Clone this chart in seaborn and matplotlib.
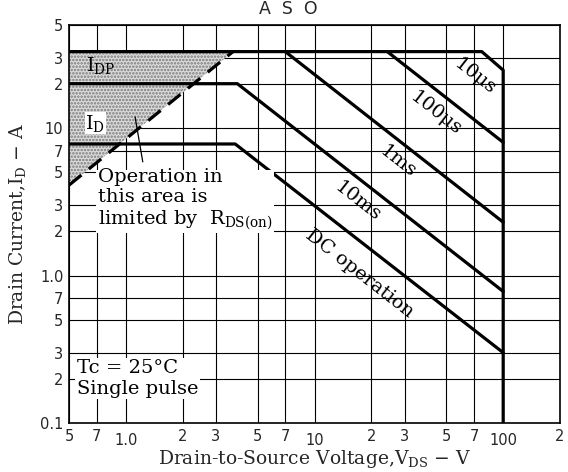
import numpy as np
import pandas as pd
import matplotlib
matplotlib.use('Agg')
import matplotlib.pyplot as plt
import seaborn as sns

# Safe operating area curves (V_DS in V, I_D in A)
idp_level = 33
us10_v = [0.5, 77, 100, 100]
us10_i = [33, 33, 24.7, 0.1]
us100_v = [24.3, 100]
us100_i = [33, 8.0]
ms1_v = [7.0, 100]
ms1_i = [33, 2.3]
ms10_v = [0.5, 3.9, 100]
ms10_i = [20, 20, 0.78]
dc_v = [0.5, 3.8, 100]
dc_i = [7.8, 7.8, 0.3]
rds_v = [0.5, 3.7]
rds_i = [4.1, 33]

x_ticks = [0.5, 0.7, 1, 2, 3, 5, 7, 10, 20, 30, 50, 70, 100, 200]
x_labels = ['5', '7', '1.0', '2', '3', '5', '7', '10', '2', '3', '5', '7', '100', '2']
y_ticks = [0.1, 0.2, 0.3, 0.5, 0.7, 1, 2, 3, 5, 7, 10, 20, 30, 50]
y_labels = ['0.1', '2', '3', '5', '7', '1.0', '2', '3', '5', '7', '10', '2', '3', '5']

sns.set_style('white')
plt.rcParams['font.family'] = ['DejaVu Serif']
plt.rcParams['mathtext.fontset'] = 'dejavuserif'
plt.rcParams['hatch.linewidth'] = 1.2

fig = plt.figure(figsize=(5.68, 4.72), dpi=100)
ax = fig.add_axes([69 / 568, 1 - 423 / 472, 491 / 568, 398 / 472])

ax.set_xscale('log')
ax.set_yscale('log')
ax.set_xlim(0.5, 200)
ax.set_ylim(0.1, 50)

# stippled area limited by R_DS(on)
ax.fill_between(rds_v, rds_i, [idp_level] * len(rds_v), facecolor='#dadada',
                edgecolor='#7a7a7a', hatch='.....', linewidth=0, zorder=1)

curves = [(us10_v, us10_i), (us100_v, us100_i), (ms1_v, ms1_i),
          (ms10_v, ms10_i), (dc_v, dc_i)]
for vv, ii in curves:
    df = pd.DataFrame({'V': vv, 'I': ii})
    sns.lineplot(data=df, x='V', y='I', ax=ax, color='black', linewidth=2.3,
                 estimator=None, sort=False, zorder=3)

rds_df = pd.DataFrame({'V': rds_v, 'I': rds_i})
sns.lineplot(data=rds_df, x='V', y='I', ax=ax, color='black', linewidth=2.3,
             linestyle=(0, (5, 3)), estimator=None, sort=False, zorder=3)

ax.set_xticks(x_ticks)
ax.set_xticklabels(x_labels)
ax.set_yticks(y_ticks)
ax.set_yticklabels(y_labels)
ax.xaxis.set_minor_locator(matplotlib.ticker.NullLocator())
ax.yaxis.set_minor_locator(matplotlib.ticker.NullLocator())
ax.tick_params(axis='both', which='major', direction='out', length=3, width=0.8,
               color='black', labelsize=10.5, pad=1)
for lab in ax.get_xticklabels() + ax.get_yticklabels():
    lab.set_family('DejaVu Sans')
for i in [2, 7, 12]:
    ax.xaxis.get_major_ticks()[i].set_pad(4)

ax.grid(True, which='major', color='black', linewidth=0.8, zorder=0)
ax.set_axisbelow(True)
for sp in ax.spines.values():
    sp.set_color('black')
    sp.set_linewidth(1.2)

ax.set_xlabel(r'Drain-to-Source Voltage,$\mathregular{V_{DS}}$ $-$ V', fontsize=13.5)
ax.set_ylabel(r'Drain Current,$\mathregular{I_D}$ $-$ A', fontsize=13.5)
ax.xaxis.set_label_coords(0.5, -0.064)
ax.yaxis.set_label_coords(-0.083, 0.5)

fig.text(288 / 568, 1 - 9 / 472, 'A  S  O', family='DejaVu Sans', fontsize=12.5,
         ha='center', va='center')

# annotations
txt = dict(fontsize=14, color='black', zorder=4)
ax.text(0.74, 26.7, r'$\mathregular{I_{DP}}$', ha='center', va='center', **txt)
ax.text(0.69, 10.8, r'$\mathregular{I_D}$', ha='center', va='center',
        bbox=dict(facecolor='white', edgecolor='none', pad=0.5), **txt)
ax.text(0.71, 5.4, 'Operation in\nthis area is\nlimited by  ' + r'$\mathregular{R_{DS(on)}}$',
        ha='left', va='top', linespacing=1.15,
        bbox=dict(facecolor='white', edgecolor='none', pad=1), **txt)
ax.plot([1.12, 1.23], [11.9, 5.9], color='black', linewidth=0.9, zorder=4)

ax.text(0.55, 0.2, 'Tc = 25°C\nSingle pulse', ha='left', va='center',
        linespacing=1.2, bbox=dict(facecolor='white', edgecolor='none', pad=1), **txt)

rot = -38
ax.text(70.9, 22.2, '10μs', rotation=rot, rotation_mode='anchor', ha='center', va='center', **txt)
ax.text(44, 12.6, '100μs', rotation=rot, rotation_mode='anchor', ha='center', va='center', **txt)
ax.text(27.7, 5.9, '1ms', rotation=rot, rotation_mode='anchor', ha='center', va='center', **txt)
ax.text(17.0, 3.2, '10ms', rotation=rot, rotation_mode='anchor', ha='center', va='center', **txt)
ax.text(17.3, 1.04, 'DC operation', rotation=rot, rotation_mode='anchor', ha='center', va='center', **txt)

fig.savefig('out.png', dpi=100)
